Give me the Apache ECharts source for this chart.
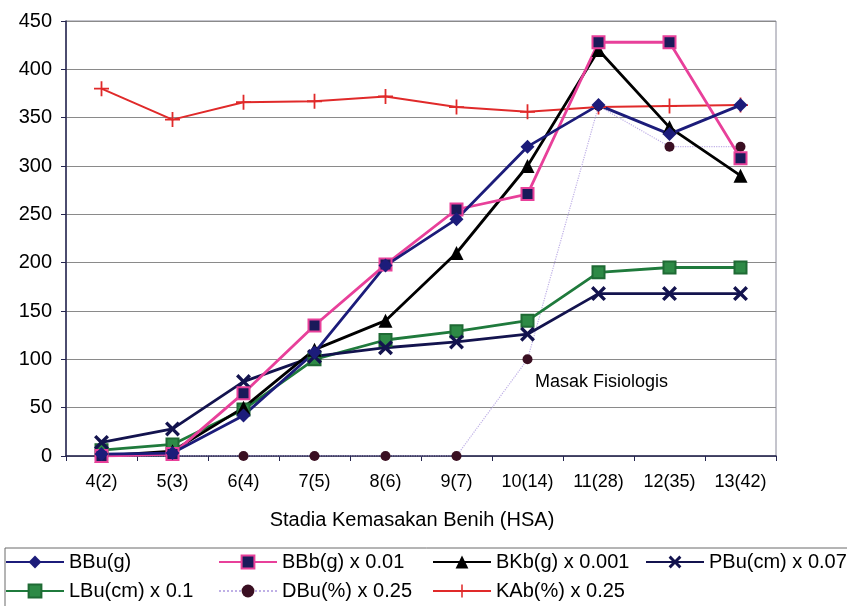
<!DOCTYPE html>
<html>
<head>
<meta charset="utf-8">
<script src="https://cdn.jsdelivr.net/npm/echarts@6/dist/echarts.min.js"></script>
<style>html,body{margin:0;padding:0;background:#fff}#c{width:847px;height:606px}</style>
</head>
<body>
<div id="c"></div>
<script>
var categories = ['4(2)','5(3)','6(4)','7(5)','8(6)','9(7)','10(14)','11(28)','12(35)','13(42)'];
var yTicks = {min: 0, max: 450, interval: 50};
var BBu = [2, 3, 42, 107, 197, 245, 320, 363, 333, 363];
var BBb = [0, 2, 65, 135, 198, 255, 271, 428, 428, 308];
var BKb = [0, 5, 50, 110, 140, 210, 300, 420, 340, 290];
var PBu = [14, 28, 77, 103, 112, 118, 126, 168, 168, 168];
var LBu = [6, 12, 48, 100, 120, 129, 140, 190, 195, 195];
var DBu = [0, 0, 0, 0, 0, 0, 100, 362, 320, 320];
var KAb = [380, 348, 366, 367, 372, 361, 356, 361, 362, 363];
var names = ['BBu(g)', 'BBb(g) x 0.01', 'BKb(g) x 0.001', 'PBu(cm) x 0.07', 'LBu(cm) x 0.1', 'DBu(%) x 0.25', 'KAb(%) x 0.25'];
var annotation = 'Masak Fisiologis';

var FONT = 'Liberation Sans';
var X_PATH = 'path://M0,1.6L1.6,0L5,3.4L8.4,0L10,1.6L6.6,5L10,8.4L8.4,10L5,6.6L1.6,10L0,8.4L3.4,5Z';
var PLUS_PATH = 'path://M4.4,0H5.6V4.4H10V5.6H5.6V10H4.4V5.6H0V4.4H4.4Z';

function mk(name, data, color, symbol, size, fill, border, lineType, lineWidth) {
  return {
    name: name, type: 'line', data: data,
    symbol: symbol, symbolSize: size,
    lineStyle: {color: color, width: lineWidth || 2.8, type: lineType || 'solid'},
    itemStyle: {color: fill || color, borderColor: border || fill || color, borderWidth: border ? 2 : 0},
    emphasis: {disabled: true}
  };
}

var series = [
  mk(names[5], DBu, '#bfb0e6', 'circle', 10, '#3a0f22', null, 'dotted', 1.2),
  mk(names[6], KAb, '#e02a2a', PLUS_PATH, 15, '#e02a2a', null, 'solid', 2),
  mk(names[4], LBu, '#1f7a3c', 'rect', 12, '#2e8a46', '#1f6a34'),
  mk(names[3], PBu, '#13134e', X_PATH, 15, '#13134e'),
  mk(names[2], BKb, '#000000', 'triangle', 14, '#000000'),
  mk(names[1], BBb, '#e8409a', 'rect', 12, '#1a1a5a', '#e8409a'),
  mk(names[0], BBu, '#1c1c7a', 'diamond', 14, '#1c1c7a')
];

var legendPos = [
  [names[0], 5, 552], [names[1], 218, 552], [names[2], 432, 552], [names[3], 645, 552],
  [names[4], 5, 581], [names[5], 218, 581], [names[6], 432, 581]
];
var legends = legendPos.map(function (p) {
  return {
    data: [p[0]], left: p[1], top: p[2], padding: 0, itemGap: 0,
    itemWidth: 58, itemHeight: 16, selectedMode: false,
    textStyle: {fontFamily: FONT, fontSize: 20, color: '#000'}
  };
});

var chart = echarts.init(document.getElementById('c'));
chart.setOption({
  animation: false,
  backgroundColor: '#fff',
  grid: {left: 66, right: 71, top: 21, bottom: 150, show: true, borderColor: '#8a8a9a', borderWidth: 1},
  legend: legends,
  xAxis: {
    type: 'category', data: categories, boundaryGap: true,
    name: 'Stadia Kemasakan Benih (HSA)', nameLocation: 'middle', nameGap: 54,
    nameTextStyle: {fontFamily: FONT, fontSize: 20, color: '#000', padding: [0, 18, 0, 0]},
    axisLine: {lineStyle: {color: '#25254f', width: 1.5}},
    axisTick: {show: true, length: 5, lineStyle: {color: '#25254f'}},
    axisLabel: {fontFamily: FONT, fontSize: 18, color: '#000', margin: 17}
  },
  yAxis: {
    type: 'value', min: yTicks.min, max: yTicks.max, interval: yTicks.interval,
    axisLine: {show: true, lineStyle: {color: '#25254f', width: 1.5}},
    axisTick: {show: true, length: 5, lineStyle: {color: '#25254f'}},
    splitLine: {lineStyle: {color: '#8a8a8a', width: 1}},
    axisLabel: {fontFamily: FONT, fontSize: 20, color: '#000', margin: 14}
  },
  graphic: [
    {type: 'rect', shape: {x: 5, y: 548, width: 900, height: 80}, style: {fill: 'none', stroke: '#6a6a6a', lineWidth: 1}, silent: true},
    {type: 'text', left: 535, top: 373, style: {text: annotation, font: '18px "Liberation Sans"', fill: '#000'}, silent: true}
  ],
  series: series
});
</script>
</body>
</html>
